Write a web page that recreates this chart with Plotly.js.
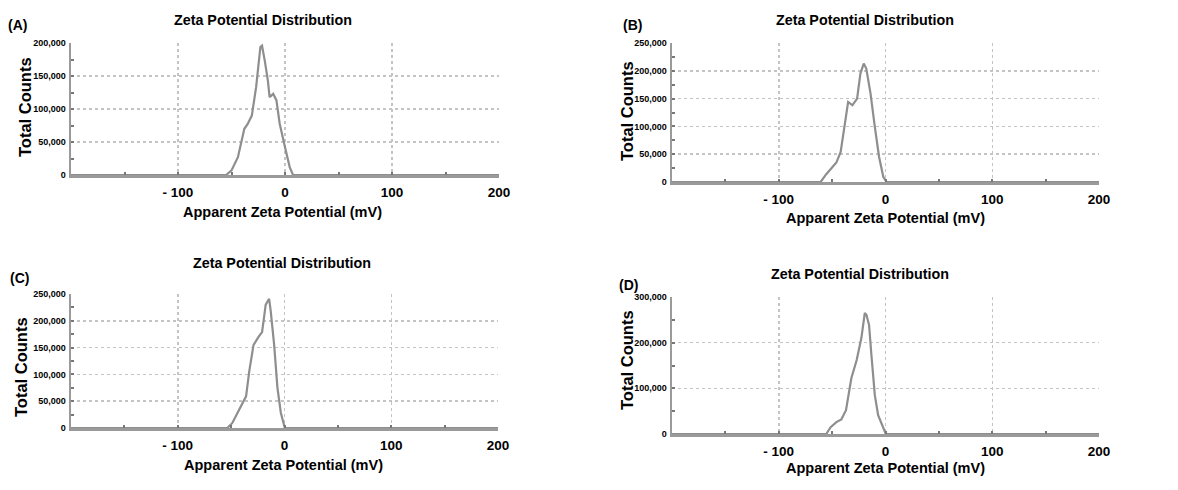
<!DOCTYPE html>
<html>
<head>
<meta charset="utf-8">
<script src="https://cdn.plot.ly/plotly-3.0.1.min.js"></script>
<style>
html,body{margin:0;padding:0;background:#fff;}
#chart{width:1178px;height:490px;}
</style>
</head>
<body>
<div id="chart"></div>
<script>
// ---- data ----
const panelLabels = ['(A)', '(B)', '(C)', '(D)'];
const chartTitle = 'Zeta Potential Distribution';
const xAxisTitle = 'Apparent Zeta Potential (mV)';
const yAxisTitle = 'Total Counts';
const xTickVals = [-100, 0, 100, 200];
const xTickText = ['- 100', '0', '100', '200'];

const xA = [-200, -55, -50, -44, -38, -35, -31, -27, -23, -21.5, -19, -16, -14.4, -11, -8, -5, 0, 4.4, 7.5, 200];
const yA = [0, 0, 7000, 27000, 70000, 77000, 90000, 133000, 194000, 196000, 174000, 143000, 118000, 123000, 113000, 78000, 42000, 12000, 0, 0];

const xB = [-200, -60.8, -55.5, -46, -42, -38, -35, -31, -26.6, -23.5, -20.4, -18, -14, -10, -6, -2, 1, 200];
const yB = [0, 0, 14000, 35000, 54000, 105000, 144000, 138000, 150000, 195000, 213000, 204000, 159000, 99000, 45000, 9000, 0, 0];

const xC = [-200, -53.6, -49, -42.6, -36, -33, -29, -24, -21, -17.6, -14.4, -12.9, -9.7, -6.6, -3.4, 0.3, 200];
const yC = [0, 0, 9000, 34000, 59000, 106000, 155000, 171000, 179000, 230000, 241000, 218000, 155000, 75000, 28000, 0, 0];

const xD = [-200, -55.5, -51.4, -46, -41.4, -37, -32, -27, -22.6, -19.4, -17.9, -15.4, -13.2, -10, -6.9, -2.8, 0.3, 200];
const yD = [0, 0, 15000, 26000, 32000, 52000, 122000, 162000, 210000, 265000, 261000, 239000, 173000, 85000, 41000, 15000, 0, 0];

const yMax = [200000, 250000, 250000, 300000];
const yDtick = [50000, 50000, 50000, 100000];
const yMinor = [25000, 25000, 25000, 50000];

// ---- layout geometry (pixels) ----
const W = 1178, H = 490;
const boxes = [
  {l: 71, r: 499, t: 43, b: 175},
  {l: 672, r: 1099, t: 43, b: 182},
  {l: 71, r: 498, t: 294, b: 428},
  {l: 672, r: 1099, t: 297, b: 434}
];
const textPos = [
  {title: [263, 20], letter: [17, 25], ytitle: [25, 107], xtitle: [282, 212]},
  {title: [865, 20], letter: [632, 25], ytitle: [627, 111], xtitle: [885, 218]},
  {title: [282, 263], letter: [19, 278], ytitle: [21, 367], xtitle: [283, 465]},
  {title: [860, 274], letter: [628, 285], ytitle: [627, 360], xtitle: [885, 468]}
];

const xs = [xA, xB, xC, xD];
const ys = [yA, yB, yC, yD];

const FONT = 'Liberation Sans, Arial, Helvetica, sans-serif';
const axisCol = '#9a9a9a';
const gridCol = '#c4c4c4';
const lineCol = '#8e8e8e';

const traces = [];
const layout = {
  width: W, height: H,
  margin: {l: 0, r: 0, t: 0, b: 0},
  paper_bgcolor: '#ffffff',
  plot_bgcolor: '#ffffff',
  showlegend: false,
  font: {family: FONT, color: '#000'},
  annotations: []
};

const px = v => v / W;
const py = v => (H - v) / H;

for (let i = 0; i < 4; i++) {
  const n = i === 0 ? '' : String(i + 1);
  const bx = boxes[i];
  traces.push({
    x: xs[i], y: ys[i],
    type: 'scatter', mode: 'lines',
    line: {color: lineCol, width: 2.2},
    xaxis: 'x' + n, yaxis: 'y' + n,
    hoverinfo: 'skip'
  });
  layout['xaxis' + n] = {
    domain: [px(bx.l), px(bx.r)],
    anchor: 'y' + n,
    range: [-200, 200],
    fixedrange: true,
    tickmode: 'array', tickvals: xTickVals, ticktext: xTickText,
    tickfont: {family: FONT, size: 13.5, weight: 'bold', color: '#000'},
    ticks: 'inside', ticklen: 3, tickwidth: 2, tickcolor: '#777',
    ticklabelstandoff: 3,
    showline: true, linecolor: axisCol, linewidth: 2.5,
    showgrid: true, gridcolor: gridCol, griddash: 'dot', gridwidth: 1.5,
    zeroline: false,
    minor: {tickmode: 'linear', tick0: 0, dtick: 50, ticks: 'inside', ticklen: 3, tickwidth: 2, tickcolor: '#777', showgrid: false}
  };
  layout['yaxis' + n] = {
    domain: [py(bx.b), py(bx.t)],
    anchor: 'x' + n,
    range: [0, yMax[i]],
    fixedrange: true,
    tickmode: 'linear', tick0: 0, dtick: yDtick[i], tickformat: ',d',
    tickfont: {family: FONT, size: 9, weight: 'bold', color: '#000'},
    ticks: 'inside', ticklen: 3, tickwidth: 2, tickcolor: '#777',
    ticklabelstandoff: 1,
    showline: true, linecolor: axisCol, linewidth: 2.5,
    showgrid: true, gridcolor: gridCol, griddash: 'dot', gridwidth: 1.5,
    zeroline: false,
    minor: {tickmode: 'linear', tick0: 0, dtick: yMinor[i], ticks: 'inside', ticklen: 3, tickwidth: 2, tickcolor: '#777', showgrid: false}
  };
  const tp = textPos[i];
  layout.annotations.push(
    {text: '<b>' + chartTitle + '</b>', xref: 'paper', yref: 'paper', x: px(tp.title[0]), y: py(tp.title[1]), xanchor: 'center', yanchor: 'middle', showarrow: false, font: {family: FONT, size: 14.3, color: '#000'}},
    {text: '<b>' + panelLabels[i] + '</b>', xref: 'paper', yref: 'paper', x: px(tp.letter[0]), y: py(tp.letter[1]), xanchor: 'center', yanchor: 'middle', showarrow: false, font: {family: FONT, size: 14, color: '#000'}},
    {text: '<b>' + yAxisTitle + '</b>', xref: 'paper', yref: 'paper', x: px(tp.ytitle[0]), y: py(tp.ytitle[1]), xanchor: 'center', yanchor: 'middle', textangle: -90, showarrow: false, font: {family: FONT, size: 16.5, color: '#000'}},
    {text: '<b>' + xAxisTitle + '</b>', xref: 'paper', yref: 'paper', x: px(tp.xtitle[0]), y: py(tp.xtitle[1]), xanchor: 'center', yanchor: 'middle', showarrow: false, font: {family: FONT, size: 14.5, color: '#000'}}
  );
}

Plotly.newPlot('chart', traces, layout, {displayModeBar: false, staticPlot: true});
</script>
</body>
</html>
